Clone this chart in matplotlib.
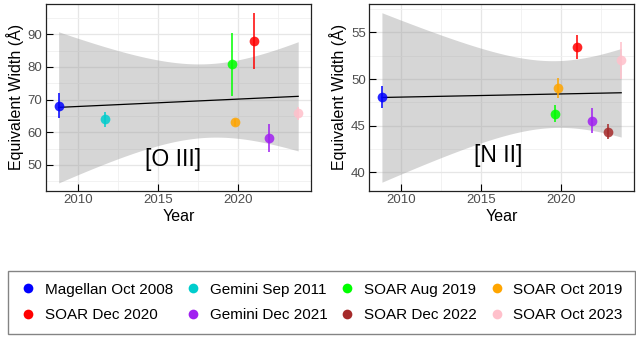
import numpy as np
import matplotlib
matplotlib.use('Agg')
import matplotlib.pyplot as plt
from matplotlib.lines import Line2D
from matplotlib.ticker import MultipleLocator

plt.rcParams['font.family'] = ['Liberation Sans', 'DejaVu Sans']

# Observations (decimal year) and their colours
labels = ['Magellan Oct 2008', 'Gemini Sep 2011', 'SOAR Aug 2019', 'SOAR Oct 2019',
          'SOAR Dec 2020', 'Gemini Dec 2021', 'SOAR Dec 2022', 'SOAR Oct 2023']
colors = ['#0000FF', '#00CDCD', '#00FF00', '#FFA500',
          '#FF0000', '#A020F0', '#A52A2A', '#FFC0CB']
years = [2008.79, 2011.70, 2019.60, 2019.79, 2020.96, 2021.93, 2022.93, 2023.75]

# Equivalent widths (Angstrom) and 1-sigma errors, nan = not measured
oiii = [68.2, 64.0, 80.8, 63.0, 88.0, 58.3, np.nan, 65.8]
oiii_err = [3.8, 2.3, 9.7, 1.0, 8.6, 4.3, np.nan, 2.0]
nii = [48.1, np.nan, 46.28, 49.07, 53.46, 45.53, 44.39, 52.0]
nii_err = [1.2, np.nan, 0.9, 1.05, 1.3, 1.35, 0.85, 1.95]

# t quantile (97.5%) by degrees of freedom -> 95% band of a linear fit
T975 = {5: 2.5706, 6: 2.4469}


def lm_band(x, y):
    x = np.asarray(x)
    y = np.asarray(y)
    ok = ~np.isnan(y)
    x, y = x[ok], y[ok]
    n = len(x)
    slope, icpt = np.polyfit(x, y, 1)
    resid = y - (slope * x + icpt)
    s = np.sqrt(np.sum(resid ** 2) / (n - 2))
    xs = np.linspace(x.min(), x.max(), 100)
    se = s * np.sqrt(1 / n + (xs - x.mean()) ** 2 / np.sum((x - x.mean()) ** 2))
    fit = slope * xs + icpt
    return xs, fit, fit - T975[n - 2] * se, fit + T975[n - 2] * se


def panel(ax, vals, errs, name, name_xy, ylim, major, minor):
    xs, fit, lo, hi = lm_band(years, vals)
    ax.fill_between(xs, lo, hi, color='#999999', alpha=0.4, lw=0, zorder=1)
    ax.plot(xs, fit, color='black', lw=0.9, zorder=2)
    for x, v, e, c in zip(years, vals, errs, colors):
        if np.isnan(v):
            continue
        ax.errorbar(x, v, yerr=e, fmt='o', color=c, ms=7, mec='none',
                    elinewidth=1.3, capsize=0, alpha=0.85, zorder=3)
    ax.text(name_xy[0], name_xy[1], name, fontsize=16.5, ha='center', va='center')
    ax.set_xlim(2008.0, 2024.55)
    ax.set_ylim(*ylim)
    ax.xaxis.set_major_locator(MultipleLocator(5))
    ax.xaxis.set_minor_locator(MultipleLocator(2.5))
    ax.yaxis.set_major_locator(MultipleLocator(major))
    ax.yaxis.set_minor_locator(MultipleLocator(minor))
    ax.grid(which='major', color='#e6e6e6', lw=0.9, zorder=0)
    ax.grid(which='minor', color='#f0f0f0', lw=0.6, zorder=0)
    ax.set_axisbelow(True)
    ax.tick_params(which='major', direction='in', length=5, width=0.8,
                   labelsize=9.5, labelcolor='#4d4d4d', pad=2.5)
    ax.tick_params(which='minor', length=0)
    for sp in ax.spines.values():
        sp.set_color('#222222')
        sp.set_linewidth(0.9)
    ax.set_xlabel('Year', fontsize=11.5, labelpad=2)
    ax.set_ylabel('Equivalent Width (Å)', fontsize=11.5, labelpad=3)


fig = plt.figure(figsize=(6.36, 3.39), dpi=100)
ax1 = fig.add_axes([46 / 636, 1 - 190.7 / 339, 265 / 636, 186.7 / 339])
ax2 = fig.add_axes([369.3 / 636, 1 - 190.7 / 339, 264.7 / 636, 186.7 / 339])

panel(ax1, oiii, oiii_err, '[O III]', (2015.94, 51.8), (42.1, 99.3), 10, 5)
panel(ax2, nii, nii_err, '[N II]', (2016.03, 41.85), (38.05, 58.05), 5, 2.5)

# legend fills row by row (4 per row)
order = [0, 4, 1, 5, 2, 6, 3, 7]
handles = [Line2D([], [], ls='none', marker='o', ms=7, mec='none', color=colors[i]) for i in order]
leg = fig.legend(handles, [labels[i] for i in order], ncol=4, loc='center left',
                 bbox_to_anchor=(8 / 636, 1 - 302.5 / 339),
                 fontsize=11, frameon=True, fancybox=False,
                 handlelength=1.0, handletextpad=0.6, columnspacing=0.8,
                 labelspacing=0.75, borderpad=0.8, borderaxespad=0)
leg.get_frame().set_edgecolor('#666666')
leg.get_frame().set_linewidth(1.0)

fig.savefig('out.png', dpi=100)
